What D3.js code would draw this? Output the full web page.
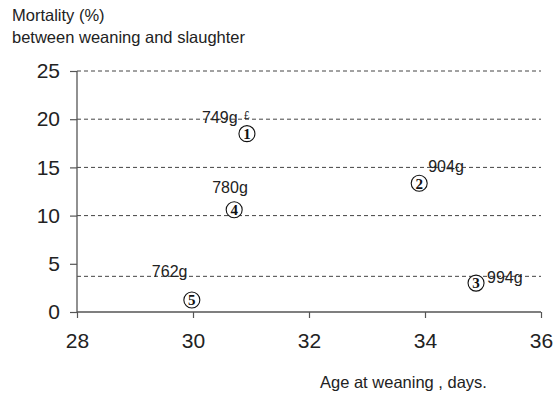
<!DOCTYPE html>
<html>
<head>
<meta charset="utf-8">
<script src="https://cdn.jsdelivr.net/npm/d3@7"></script>
<style>
    body { margin: 0; background: #fff; }
    svg { display: block; font-family: "Liberation Sans", Arial, sans-serif; }
</style>
</head>
<body>
<div id="chart"></div>
<script>
// data
const groupIds = [1, 2, 3, 4, 5];
const weaningAge = [30.93, 33.9, 34.88, 30.71, 29.98];
const mortality = [18.5, 13.35, 3.0, 10.6, 1.25];
const weightLabels = ["749g", "904g", "994g", "780g", "762g"];
const refLines = [25, 20, 15, 10, 3.7];
const xTicks = [28, 30, 32, 34, 36];
const yTicks = [0, 5, 10, 15, 20, 25];

// label placement, px relative to the circle centre
const labelDx = [-45, 9, 11, -22, -40];
const labelDy = [-11, -11.5, 0, -16.5, -23];

const width = 555, height = 394;

const svg = d3.select("#chart").append("svg")
    .attr("width", width)
    .attr("height", height);

// scales
const x = d3.scaleLinear().domain([28, 36]).range([77, 541]);
const y = d3.scaleLinear().domain([0, 25]).range([312, 71]);

const axisColor = "#555";

// dashed reference lines
svg.append("g")
    .selectAll("line")
    .data(refLines)
    .join("line")
    .attr("x1", x(28))
    .attr("x2", x(36))
    .attr("y1", d => y(d))
    .attr("y2", d => y(d))
    .attr("stroke", "#444")
    .attr("stroke-width", 1)
    .attr("stroke-dasharray", "4,3");

// axes
const xAxis = d3.axisBottom(x).tickValues(xTicks).tickSize(6).tickPadding(10);
const yAxis = d3.axisLeft(y).tickValues(yTicks).tickSize(7).tickPadding(10);

const gx = svg.append("g")
    .attr("transform", `translate(0, ${y(0)})`)
    .call(xAxis);
const gy = svg.append("g")
    .attr("transform", `translate(${x(28)}, 0)`)
    .call(yAxis);

[gx, gy].forEach(g => {
    g.select(".domain").attr("stroke", axisColor).attr("stroke-width", 1.3);
    g.selectAll(".tick line").attr("stroke", axisColor).attr("stroke-width", 1.2);
    g.selectAll(".tick text")
        .attr("fill", "#222")
        .style("font-family", "'Liberation Sans', Arial, sans-serif")
        .style("font-size", "21px");
});
gx.select(".domain").attr("d", `M${x(28)},0H${x(36)}`);
gy.select(".domain").attr("d", `M0,${y(25)}V${y(0)}`);
gx.selectAll(".tick text").attr("dy", "0.95em");

// points: circled group numbers
const pts = svg.append("g")
    .selectAll("g")
    .data(groupIds)
    .join("g")
    .attr("transform", (d, i) => `translate(${x(weaningAge[i])}, ${y(mortality[i])})`);

pts.append("circle")
    .attr("r", 8)
    .attr("fill", "#fff")
    .attr("stroke", "#111")
    .attr("stroke-width", 1.1);

pts.append("text")
    .attr("text-anchor", "middle")
    .attr("dy", "0.36em")
    .style("font-family", "'Liberation Serif', 'Times New Roman', serif")
    .style("font-weight", "bold")
    .style("font-size", "15px")
    .attr("fill", "#111")
    .text(d => d);

// weight labels
pts.append("text")
    .attr("x", (d, i) => labelDx[i])
    .attr("y", (d, i) => labelDy[i])
    .style("font-size", "16px")
    .attr("fill", "#222")
    .text((d, i) => weightLabels[i]);

// pound sign next to the first label
svg.append("text")
    .attr("x", x(weaningAge[0]) - 3)
    .attr("y", y(mortality[0]) - 15)
    .style("font-size", "10px")
    .attr("fill", "#222")
    .text("£");

// titles
svg.append("text")
    .attr("x", 12)
    .attr("y", 21)
    .style("font-size", "16.5px")
    .attr("fill", "#222")
    .text("Mortality (%)");

svg.append("text")
    .attr("x", 12)
    .attr("y", 43)
    .style("font-size", "16.5px")
    .attr("fill", "#222")
    .text("between weaning and slaughter");

svg.append("text")
    .attr("x", 320)
    .attr("y", 388)
    .style("font-size", "16.5px")
    .attr("fill", "#222")
    .text("Age at weaning , days.");
</script>
</body>
</html>
